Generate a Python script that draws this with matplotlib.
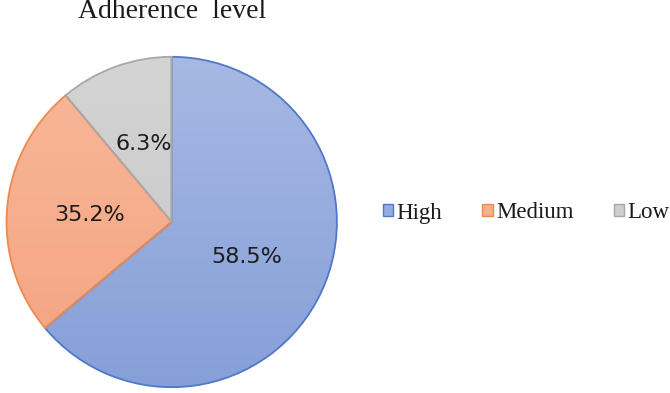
import matplotlib
matplotlib.use("Agg")
import matplotlib.pyplot as plt
import numpy as np
from matplotlib.patches import Patch

# Data
categories = ["High", "Medium", "Low"]
# wedge sizes as drawn (angles measured in the picture)
wedge_sizes = [63.9, 25.0, 11.1]
# labels printed on the slices
label_texts = ["58.5%", "35.2%", "6.3%"]
title = "Adherence  level"

fill_top = ["#A6B9E4", "#F8B89A", "#D4D4D4"]
fill_bot = ["#879FD8", "#F4A380", "#C6C6C6"]
fills = ["#98ADDF", "#F6AE8D", "#CECECE"]
edges = ["#4F78C8", "#EE8A4E", "#A8A8A8"]

W, H = 670, 393
fig = plt.figure(figsize=(W / 100, H / 100), dpi=100)
fig.patch.set_facecolor("white")

cx, cy, R = 171.7, 222.0, 166.0
ax = fig.add_axes([(cx - R) / W, (H - cy - R) / H, 2 * R / W, 2 * R / H])

wedges, texts = ax.pie(
    wedge_sizes,
    colors=fills,
    startangle=90,
    counterclock=False,
    labels=label_texts,
    labeldistance=0.5,
    textprops=dict(fontsize=16, color="#1c1c1c", family="DejaVu Sans",
                   ha="center", va="center"),
    wedgeprops=dict(linewidth=1.3),
)
for t in texts:
    t.set_horizontalalignment("center")
    t.set_verticalalignment("center")
    t.set_zorder(10)

grad = np.linspace(0, 1, 256).reshape(-1, 1)
for w, ec, c0, c1 in zip(wedges, edges, fill_top, fill_bot):
    w.set_edgecolor(ec)
    w.set_facecolor("none")
    w.set_zorder(3)
    cmap = matplotlib.colors.LinearSegmentedColormap.from_list("g", [c0, c1])
    im = ax.imshow(grad, cmap=cmap, extent=(-1, 1, -1, 1), origin="upper",
                   aspect="auto", zorder=2)
    im.set_clip_path(w)

ax.set_xlim(-1.005, 1.005)
ax.set_ylim(-1.005, 1.005)
ax.set_aspect("equal")
ax.axis("off")

fig.text(cx / W, 1 - 18.5 / H, title, ha="center", va="baseline",
         fontsize=20, family="Liberation Serif", color="#1a1a1a")

fs = 16.5
handles = [Patch(facecolor=f, edgecolor=e, linewidth=1.0) for f, e in zip(fills, edges)]
leg = fig.legend(handles, categories, loc="center", bbox_to_anchor=(526 / W, 1 - 213 / H),
                 ncol=3, frameon=False, handlelength=0.45, handleheight=0.45,
                 handletextpad=0.15, columnspacing=1.75, borderpad=0, borderaxespad=0,
                 prop=dict(family="Liberation Serif", size=fs))
for t in leg.get_texts():
    t.set_color("#1a1a1a")

fig.savefig("out.png", dpi=100)
